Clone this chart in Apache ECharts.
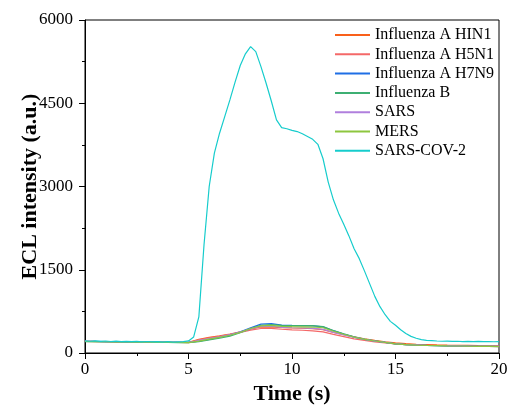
<!DOCTYPE html>
<html><head><meta charset="utf-8">
<script src="https://cdn.jsdelivr.net/npm/echarts@6/dist/echarts.min.js"></script>
<style>html,body{margin:0;padding:0;background:#fff}#c{width:507px;height:406px}</style>
</head><body><div id="c"></div>
<script>
var seriesNames = ['Influenza A HIN1','Influenza A H5N1','Influenza A H7N9','Influenza B','SARS','MERS','SARS-COV-2'];
var colors = ['#F9601A','#F46868','#1F6FE5','#3DAF73','#B07FDD','#8DC63F','#16CCCC'];

// low series, sampled every 0.5 s
var tLow = [0,0.5,1,1.5,2,2.5,3,3.5,4,4.5,5,5.5,6,6.5,7,7.5,8,8.5,9,9.5,10,10.5,11,11.5,12,12.5,13,13.5,14,14.5,15,15.5,16,16.5,17,17.5,18,18.5,19,19.5,20];
var h1n1 = [212,209,207,205,203,201,199,197,195,193,192,245,282,308,342,382,430,468,472,458,450,446,440,420,370,330,290,255,226,202,182,168,158,152,146,142,139,136,133,131,129];
var h5n1 = [208,206,204,202,200,198,196,194,192,190,188,238,275,300,334,370,412,442,442,428,418,410,400,380,335,296,256,226,201,181,162,151,144,139,135,131,127,124,121,118,116];
var h7n9 = [210,208,206,204,202,200,198,196,194,192,190,212,246,280,322,382,452,520,528,503,496,492,490,470,402,342,287,247,216,191,166,152,144,138,134,130,127,124,122,120,118];
var fluB = [205,203,201,199,197,195,193,191,189,187,185,205,235,266,305,365,440,500,512,497,495,495,492,476,406,346,291,251,219,192,166,151,143,137,133,129,126,123,120,118,116];
var sars = [209,207,205,203,201,199,197,195,193,191,189,226,261,291,330,376,436,480,482,462,455,450,445,426,372,328,282,246,215,191,167,153,145,139,135,131,128,125,122,120,118];
var mers = [207,205,203,201,199,197,195,193,191,189,187,215,250,280,320,371,441,490,496,481,475,471,468,455,392,337,284,247,216,190,165,151,143,137,133,129,126,123,121,119,117];

// SARS-COV-2, sampled every 0.25 s
var tCov = [0,0.25,0.5,0.75,1,1.25,1.5,1.75,2,2.25,2.5,2.75,3,3.25,3.5,3.75,4,4.25,4.5,4.75,5,5.25,5.5,5.75,6,6.25,6.5,6.75,7,7.25,7.5,7.75,8,8.25,8.5,8.75,9,9.25,9.5,9.75,10,10.25,10.5,10.75,11,11.25,11.5,11.75,12,12.25,12.5,12.75,13,13.25,13.5,13.75,14,14.25,14.5,14.75,15,15.25,15.5,15.75,16,16.25,16.5,16.75,17,17.25,17.5,17.75,18,18.25,18.5,18.75,19,19.25,19.5,19.75,20];
var cov2 = [218,212,220,210,216,207,214,205,211,204,209,201,207,199,205,197,204,196,202,206,218,290,650,1950,3000,3600,3960,4260,4560,4880,5180,5390,5520,5430,5160,4860,4540,4200,4060,4040,4010,3990,3950,3900,3850,3760,3500,3080,2760,2520,2320,2110,1880,1700,1480,1250,1020,835,690,570,500,420,350,300,265,240,228,222,216,212,214,208,212,206,210,205,209,204,207,203,205];

var yTicks = [0,1500,3000,4500,6000];
var xTicks = [0,5,10,15,20];

function pairs(t, v){ return t.map(function(x,i){ return [x, v[i]]; }); }
var datasets = [pairs(tLow,h1n1),pairs(tLow,h5n1),pairs(tLow,h7n9),pairs(tLow,fluB),pairs(tLow,sars),pairs(tLow,mers),pairs(tCov,cov2)];

var font = 'Liberation Serif';
var chart = echarts.init(document.getElementById('c'), null, {renderer:'canvas'});
chart.setOption({
  animation:false,
  color: colors,
  grid:{left:85,right:8,top:20,bottom:53,show:true,borderColor:'#000',borderWidth:1,backgroundColor:'transparent',containLabel:false,outerBoundsMode:'none'},
  legend:{
    orient:'vertical', left:330, top:22, padding:5, itemWidth:35, itemHeight:2, itemGap:3.3,
    icon:'rect',
    textStyle:{fontFamily:font,fontSize:16,color:'#000',lineHeight:16},
    data: seriesNames
  },
  xAxis:{
    type:'value', min:xTicks[0], max:xTicks[xTicks.length-1], interval:5,
    name:'Time (s)', nameLocation:'middle', nameGap:30, nameMoveOverlap:false,
    nameTextStyle:{fontFamily:font,fontSize:22,fontWeight:'bold',color:'#000'},
    axisLine:{show:true,onZero:false,lineStyle:{color:'#000',width:1}},
    axisTick:{show:true,inside:false,length:6,lineStyle:{color:'#000'}},
    minorTick:{show:true,splitNumber:2,length:3,lineStyle:{color:'#000'}},
    splitLine:{show:false},
    axisLabel:{fontFamily:font,fontSize:17,color:'#000',margin:8}
  },
  yAxis:{
    type:'value', min:yTicks[0], max:yTicks[yTicks.length-1], interval:1500,
    name:'ECL intensity (a.u.)', nameLocation:'middle', nameGap:44, nameRotate:90, nameMoveOverlap:false,
    nameTextStyle:{fontFamily:font,fontSize:22,fontWeight:'bold',color:'#000'},
    axisLine:{show:true,onZero:false,lineStyle:{color:'#000',width:1}},
    axisTick:{show:true,inside:false,length:6,lineStyle:{color:'#000'}},
    minorTick:{show:true,splitNumber:2,length:3,lineStyle:{color:'#000'}},
    splitLine:{show:false},
    axisLabel:{fontFamily:font,fontSize:17,color:'#000',margin:12,formatter:function(v){return String(v);}}
  },
  series: seriesNames.map(function(n,i){
    return {name:n,type:'line',data:datasets[i],showSymbol:false,symbol:'none',
      lineStyle:{width:1.2,color:colors[i]},itemStyle:{color:colors[i]},z:i===6?5:2};
  })
});
</script></body></html>
